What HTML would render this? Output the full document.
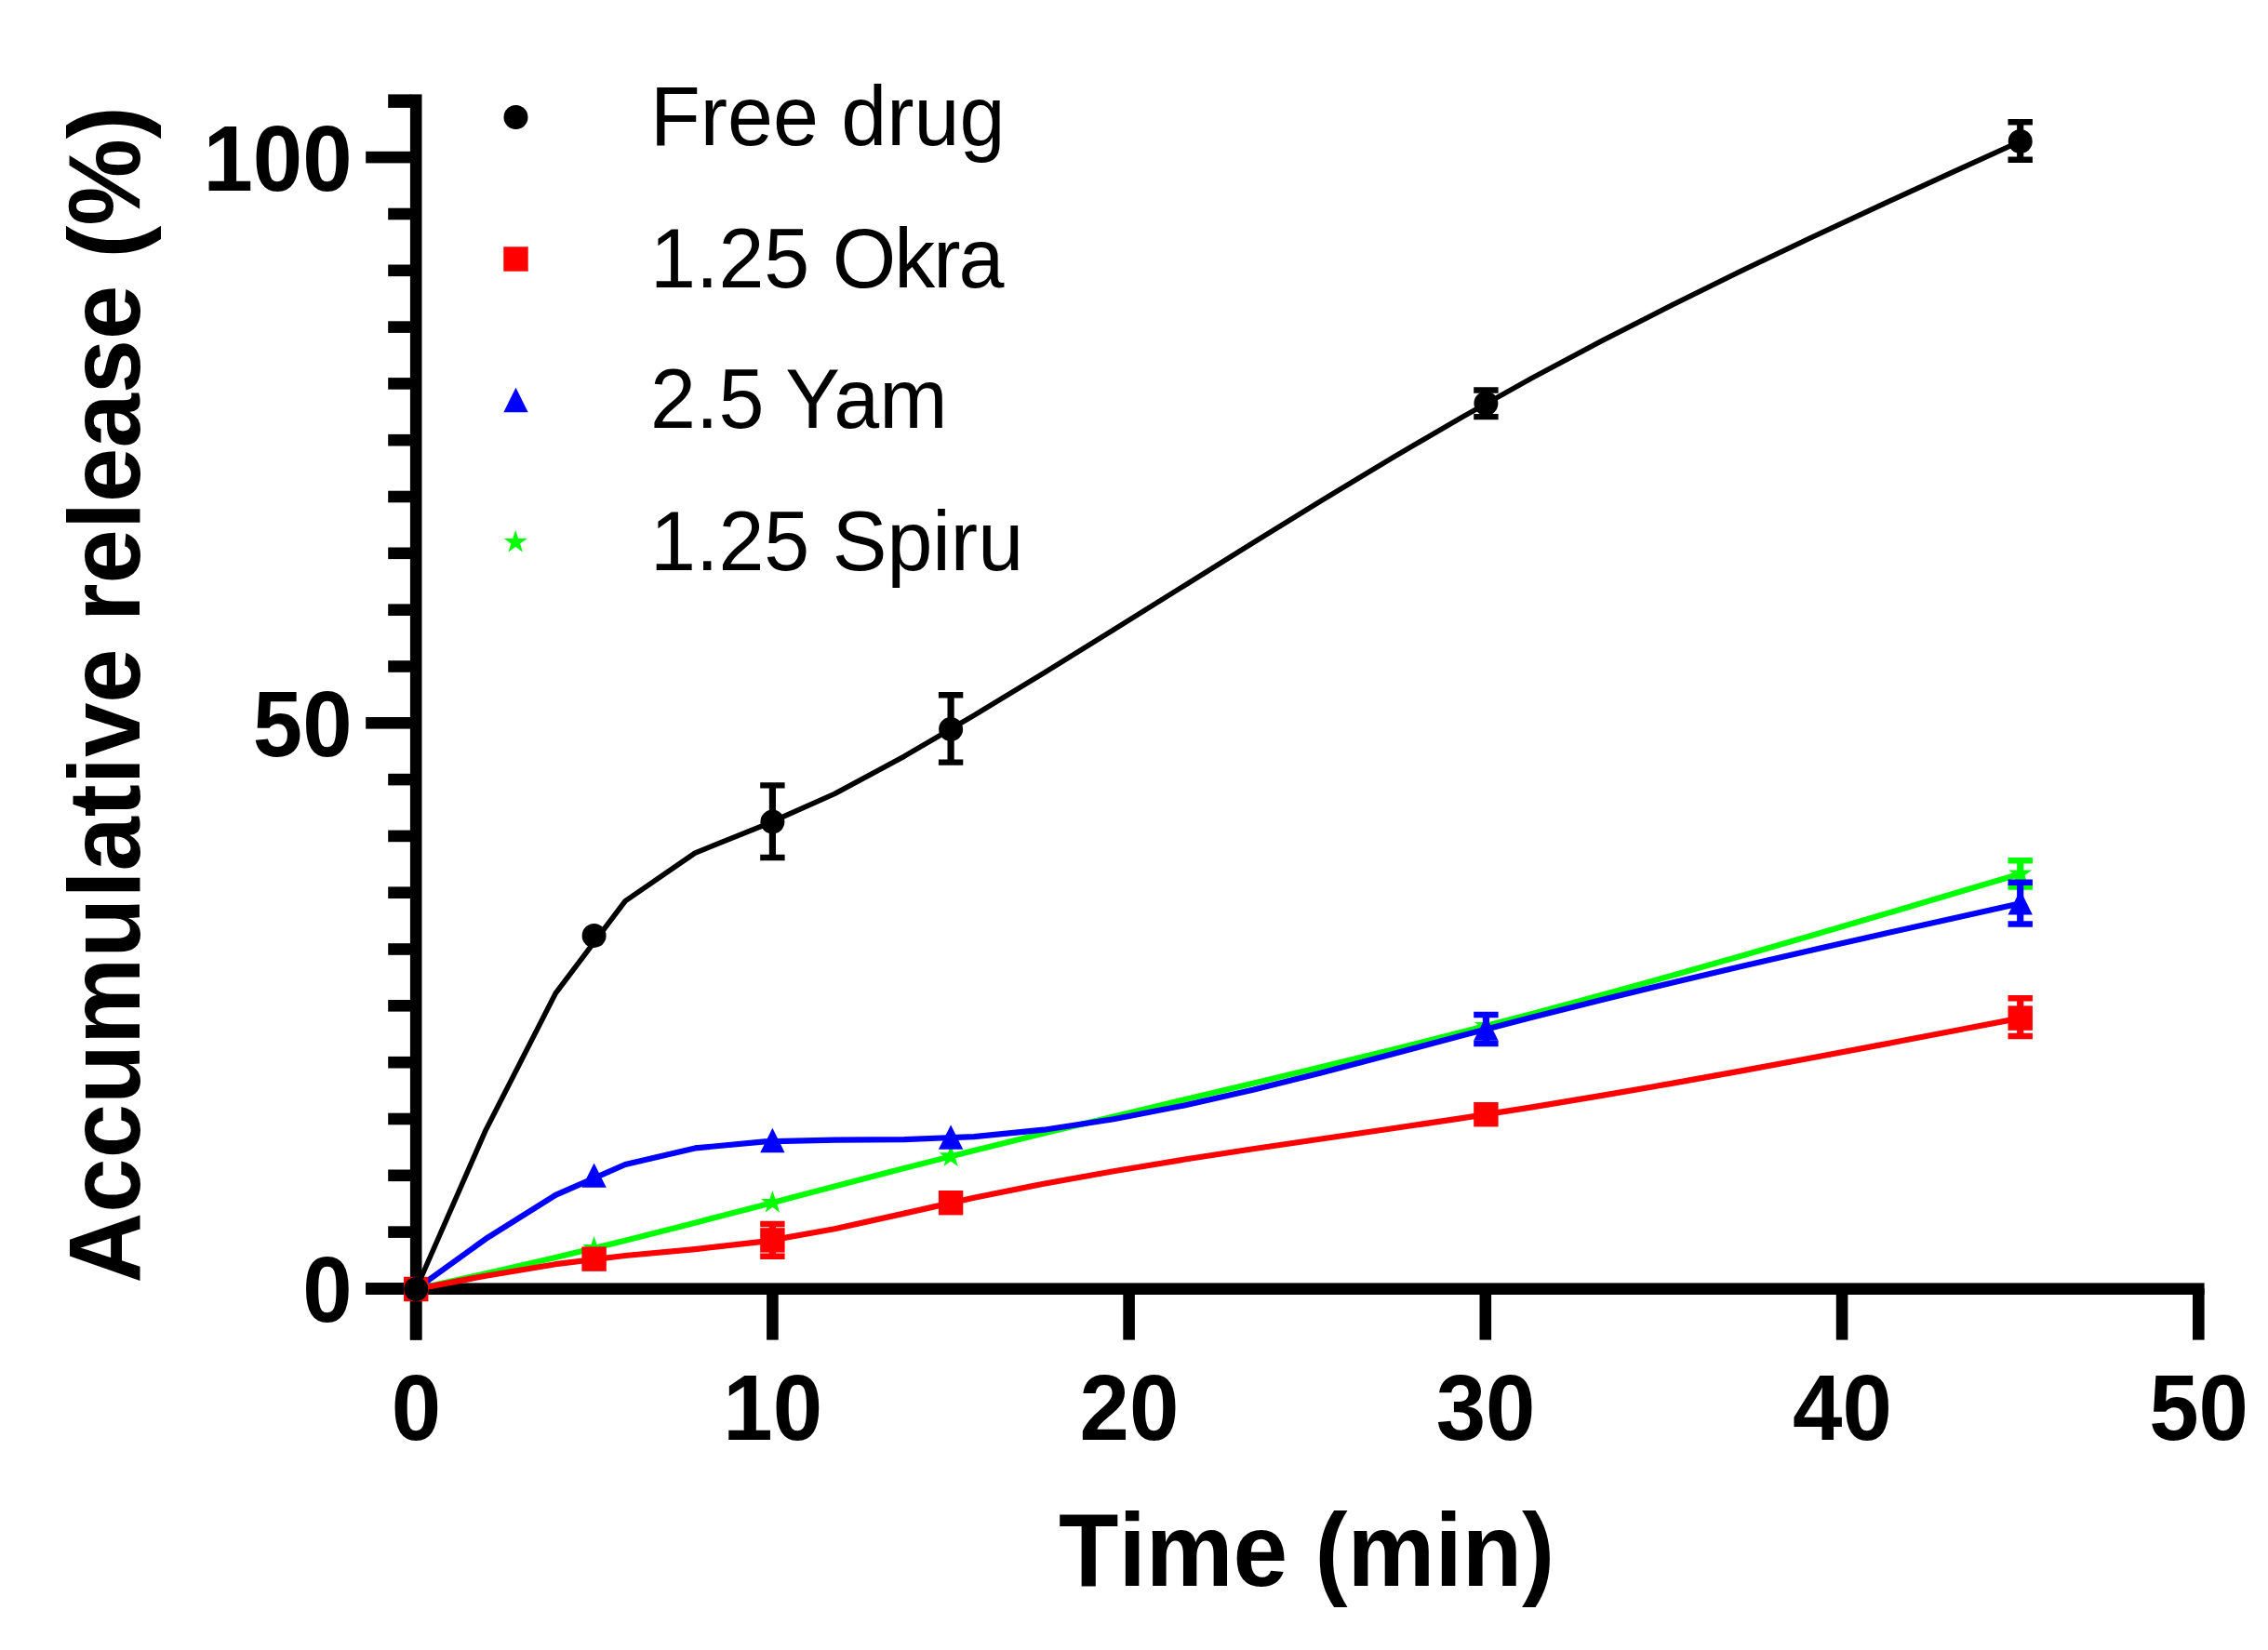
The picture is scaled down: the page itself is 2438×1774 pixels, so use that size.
<!DOCTYPE html>
<html lang="en"><head><meta charset="utf-8"><title>Accumulative release (%) vs Time (min)</title>
<style>html,body{margin:0;padding:0;background:#fff;}body{width:2438px;height:1774px;overflow:hidden;}svg{display:block;}text{font-family:"Liberation Sans",sans-serif;fill:#000;font-kerning:normal;}.b{font-weight:700;}.b text{font-kerning:none;}</style>
</head><body>
<svg width="2438" height="1774" viewBox="0 0 2438 1774">
<rect width="2438" height="1774" fill="#fff"/>
<g id="axes" fill="#000">
<rect x="440.9" y="101.4" width="12.6" height="1339.2"/>
<rect x="393.2" y="1379.4" width="1976.4" height="12.6"/>
<rect x="393.2" y="1379.1" width="48.7" height="12.6"/>
<rect x="417.2" y="1318.3" width="24.7" height="12.6"/>
<rect x="417.2" y="1257.5" width="24.7" height="12.6"/>
<rect x="417.2" y="1196.7" width="24.7" height="12.6"/>
<rect x="417.2" y="1135.9" width="24.7" height="12.6"/>
<rect x="417.2" y="1075.0" width="24.7" height="12.6"/>
<rect x="417.2" y="1014.2" width="24.7" height="12.6"/>
<rect x="417.2" y="953.4" width="24.7" height="12.6"/>
<rect x="417.2" y="892.6" width="24.7" height="12.6"/>
<rect x="417.2" y="831.8" width="24.7" height="12.6"/>
<rect x="393.2" y="771.0" width="48.7" height="12.6"/>
<rect x="417.2" y="710.2" width="24.7" height="12.6"/>
<rect x="417.2" y="649.4" width="24.7" height="12.6"/>
<rect x="417.2" y="588.5" width="24.7" height="12.6"/>
<rect x="417.2" y="527.7" width="24.7" height="12.6"/>
<rect x="417.2" y="466.9" width="24.7" height="12.6"/>
<rect x="417.2" y="406.1" width="24.7" height="12.6"/>
<rect x="417.2" y="345.3" width="24.7" height="12.6"/>
<rect x="417.2" y="284.5" width="24.7" height="12.6"/>
<rect x="417.2" y="223.7" width="24.7" height="12.6"/>
<rect x="393.2" y="162.8" width="48.7" height="12.6"/>
<rect x="417.2" y="101.4" width="24.7" height="14.5"/>
<rect x="440.8" y="1385.0" width="12.6" height="55.6"/>
<rect x="824.1" y="1385.0" width="12.6" height="55.6"/>
<rect x="1207.3" y="1385.0" width="12.6" height="55.6"/>
<rect x="1590.5" y="1385.0" width="12.6" height="55.6"/>
<rect x="1973.8" y="1385.0" width="12.6" height="55.6"/>
<rect x="2357.0" y="1385.0" width="12.6" height="55.6"/>
</g>
<g id="spiru">
<path d="M447.2 1386.0 L522.2 1369.2 L597.2 1351.9 L672.1 1333.8 L747.1 1314.7 L822.1 1295.2 L897.1 1275.5 L972.0 1256.1 L1047.0 1237.0 L1122.0 1218.6 L1197.0 1200.5 L1272.0 1182.6 L1346.9 1164.8 L1421.9 1146.8 L1496.9 1128.4 L1571.9 1109.6 L1646.9 1090.0 L1721.8 1069.8 L1796.8 1049.0 L1871.8 1027.7 L1946.8 1006.0 L2021.7 984.0 L2096.7 961.8 L2171.7 939.5" fill="none" stroke="#00ff00" stroke-width="6.2" stroke-linejoin="round"/>
<path d="M2171.7 925.2V953.6" stroke="#00ff00" stroke-width="7.2" fill="none"/><path d="M2158.5 925.2H2184.9 M2158.5 953.6H2184.9" stroke="#00ff00" stroke-width="6.4" fill="none"/>
<polygon points="447.2,1372.9 450.2,1381.9 459.7,1382.0 452.1,1387.6 454.9,1396.6 447.2,1391.1 439.5,1396.6 442.3,1387.6 434.7,1382.0 444.2,1381.9" fill="#00ff00"/>
<polygon points="638.6,1328.9 641.6,1337.9 651.1,1338.0 643.5,1343.6 646.3,1352.6 638.6,1347.1 630.9,1352.6 633.7,1343.6 626.1,1338.0 635.6,1337.9" fill="#00ff00"/>
<polygon points="830.4,1279.9 833.4,1288.9 842.9,1289.0 835.3,1294.6 838.1,1303.6 830.4,1298.1 822.7,1303.6 825.5,1294.6 817.9,1289.0 827.4,1288.9" fill="#00ff00"/>
<polygon points="1022.1,1230.2 1025.1,1239.2 1034.6,1239.3 1027.0,1244.9 1029.8,1253.9 1022.1,1248.4 1014.4,1253.9 1017.2,1244.9 1009.6,1239.3 1019.1,1239.2" fill="#00ff00"/>
<polygon points="1597.4,1089.9 1600.4,1098.9 1609.9,1099.0 1602.3,1104.6 1605.1,1113.6 1597.4,1108.1 1589.7,1113.6 1592.5,1104.6 1584.9,1099.0 1594.4,1098.9" fill="#00ff00"/>
<polygon points="2171.7,926.4 2174.7,935.4 2184.2,935.5 2176.6,941.1 2179.4,950.1 2171.7,944.6 2164.0,950.1 2166.8,941.1 2159.2,935.5 2168.7,935.4" fill="#00ff00"/>
</g>
<g id="yam">
<path d="M447.2 1386.0 L522.2 1331.9 L597.2 1284.9 L672.1 1252.0 L747.1 1234.4 L822.1 1227.4 L897.1 1225.6 L972.0 1225.1 L1047.0 1222.1 L1122.0 1214.7 L1197.0 1203.3 L1272.0 1188.7 L1346.9 1171.7 L1421.9 1152.9 L1496.9 1133.2 L1571.9 1113.2 L1646.9 1093.7 L1721.8 1074.9 L1796.8 1056.7 L1871.8 1039.0 L1946.8 1021.7 L2021.7 1004.7 L2096.7 987.9 L2171.7 971.2" fill="none" stroke="#0000ff" stroke-width="6.2" stroke-linejoin="round"/>
<path d="M1597.4 1091.0V1122.0" stroke="#0000ff" stroke-width="7.2" fill="none"/><path d="M1584.2 1091.0H1610.6 M1584.2 1122.0H1610.6" stroke="#0000ff" stroke-width="6.4" fill="none"/>
<path d="M2171.7 948.7V993.5" stroke="#0000ff" stroke-width="7.2" fill="none"/><path d="M2158.5 948.7H2184.9 M2158.5 993.5H2184.9" stroke="#0000ff" stroke-width="6.4" fill="none"/>
<polygon points="447.2,1371.8 460.4,1398.2 434.0,1398.2" fill="#0000ff"/>
<polygon points="638.6,1250.4 651.8,1276.8 625.4,1276.8" fill="#0000ff"/>
<polygon points="830.4,1212.8 843.6,1239.2 817.2,1239.2" fill="#0000ff"/>
<polygon points="1022.1,1209.4 1035.3,1235.8 1008.9,1235.8" fill="#0000ff"/>
<polygon points="1597.4,1092.3 1610.6,1118.7 1584.2,1118.7" fill="#0000ff"/>
<polygon points="2171.7,957.0 2184.9,983.4 2158.5,983.4" fill="#0000ff"/>
</g>
<g id="okra">
<path d="M447.2 1386.0 L522.2 1371.7 L597.2 1359.2 L672.1 1350.0 L747.1 1343.1 L822.1 1334.6 L897.1 1321.3 L972.0 1304.6 L1047.0 1287.8 L1122.0 1272.7 L1197.0 1259.2 L1272.0 1246.8 L1346.9 1235.3 L1421.9 1224.3 L1496.9 1213.3 L1571.9 1202.1 L1646.9 1190.4 L1721.8 1177.9 L1796.8 1164.9 L1871.8 1151.4 L1946.8 1137.5 L2021.7 1123.4 L2096.7 1109.0 L2171.7 1094.6" fill="none" stroke="#ff0000" stroke-width="6.2" stroke-linejoin="round"/>
<path d="M830.4 1316.0V1350.8" stroke="#ff0000" stroke-width="7.2" fill="none"/><path d="M817.2 1316.0H843.6 M817.2 1350.8H843.6" stroke="#ff0000" stroke-width="6.4" fill="none"/>
<path d="M2171.7 1073.2V1114.0" stroke="#ff0000" stroke-width="7.2" fill="none"/><path d="M2158.5 1073.2H2184.9 M2158.5 1114.0H2184.9" stroke="#ff0000" stroke-width="6.4" fill="none"/>
<rect x="434.0" y="1372.8" width="26.4" height="26.4" fill="#ff0000"/>
<rect x="625.4" y="1340.4" width="26.4" height="26.4" fill="#ff0000"/>
<rect x="817.2" y="1320.2" width="26.4" height="26.4" fill="#ff0000"/>
<rect x="1008.9" y="1280.0" width="26.4" height="26.4" fill="#ff0000"/>
<rect x="1584.2" y="1185.0" width="26.4" height="26.4" fill="#ff0000"/>
<rect x="2158.5" y="1081.4" width="26.4" height="26.4" fill="#ff0000"/>
</g>
<g id="free">
<path d="M447.2 1386.0 L522.2 1214.9 L597.2 1068.0 L672.1 968.7 L747.1 917.1 L822.1 886.9 L897.1 853.5 L972.0 813.2 L1047.0 769.1 L1122.0 723.6 L1197.0 677.2 L1272.0 630.3 L1346.9 583.6 L1421.9 537.3 L1496.9 492.1 L1571.9 448.3 L1646.9 406.4 L1721.8 366.5 L1796.8 328.2 L1871.8 291.3 L1946.8 255.5 L2021.7 220.6 L2096.7 186.1 L2171.7 152.0" fill="none" stroke="#000000" stroke-width="5.6" stroke-linejoin="round"/>
<path d="M830.4 844.4V922.0" stroke="#000000" stroke-width="7.2" fill="none"/><path d="M817.2 844.4H843.6 M817.2 922.0H843.6" stroke="#000000" stroke-width="6.4" fill="none"/>
<path d="M1022.1 747.2V819.6" stroke="#000000" stroke-width="7.2" fill="none"/><path d="M1008.9 747.2H1035.3 M1008.9 819.6H1035.3" stroke="#000000" stroke-width="6.4" fill="none"/>
<path d="M1597.4 419.5V448.1" stroke="#000000" stroke-width="7.2" fill="none"/><path d="M1584.2 419.5H1610.6 M1584.2 448.1H1610.6" stroke="#000000" stroke-width="6.4" fill="none"/>
<path d="M2171.7 131.3V171.7" stroke="#000000" stroke-width="7.2" fill="none"/><path d="M2158.5 131.3H2184.9 M2158.5 171.7H2184.9" stroke="#000000" stroke-width="6.4" fill="none"/>
<circle cx="447.2" cy="1386.0" r="13.0" fill="#000000"/>
<circle cx="638.6" cy="1006.0" r="13.0" fill="#000000"/>
<circle cx="830.4" cy="883.6" r="13.0" fill="#000000"/>
<circle cx="1022.1" cy="784.0" r="13.0" fill="#000000"/>
<circle cx="1597.4" cy="433.8" r="13.0" fill="#000000"/>
<circle cx="2171.7" cy="152.0" r="13.0" fill="#000000"/>
</g>
<g id="ticklabels" class="b" font-size="96.0">
<text transform="translate(378.6 204.5) scale(1 1.040)" text-anchor="end">100</text>
<text transform="translate(378.6 812.6) scale(1 1.040)" text-anchor="end">50</text>
<text transform="translate(378.6 1420.8) scale(1 1.040)" text-anchor="end">0</text>
<text transform="translate(447.4 1547.8) scale(1 1.040)" text-anchor="middle">0</text>
<text transform="translate(830.7 1547.8) scale(1 1.040)" text-anchor="middle">10</text>
<text transform="translate(1213.9 1547.8) scale(1 1.040)" text-anchor="middle">20</text>
<text transform="translate(1597.1 1547.8) scale(1 1.040)" text-anchor="middle">30</text>
<text transform="translate(1980.4 1547.8) scale(1 1.040)" text-anchor="middle">40</text>
<text transform="translate(2363.6 1547.8) scale(1 1.040)" text-anchor="middle">50</text>
</g>
<g id="titles" class="b" font-size="105.5">
<text transform="translate(1404.6 1704.6) scale(1 1.050)" text-anchor="middle">Time (min)</text>
<text transform="translate(150.2 746.9) rotate(-90) scale(1 1.050)" text-anchor="middle" font-size="104.9">Accumulative release (%)</text>
</g>
<g id="legend" font-size="88.0">
<circle cx="554.5" cy="126.0" r="13.0" fill="#000000"/>
<rect x="541.3" y="265.3" width="26.4" height="26.4" fill="#ff0000"/>
<polygon points="554.5,416.8 567.7,443.2 541.3,443.2" fill="#0000ff"/>
<polygon points="554.2,569.9 557.2,578.9 566.7,579.0 559.1,584.6 561.9,593.6 554.2,588.1 546.5,593.6 549.3,584.6 541.7,579.0 551.2,578.9" fill="#00ff00"/>
<text transform="translate(699.0 156.2) scale(1 1.040)" text-anchor="start">Free drug</text>
<text transform="translate(699.0 308.5) scale(1 1.040)" text-anchor="start">1.25 <tspan letter-spacing="-2">Okra</tspan></text>
<text transform="translate(699.0 460.3) scale(1 1.040)" text-anchor="start">2.5 Yam</text>
<text transform="translate(699.0 612.8) scale(1 1.040)" text-anchor="start">1.25 Spiru</text>
</g>
</svg>
</body></html>
